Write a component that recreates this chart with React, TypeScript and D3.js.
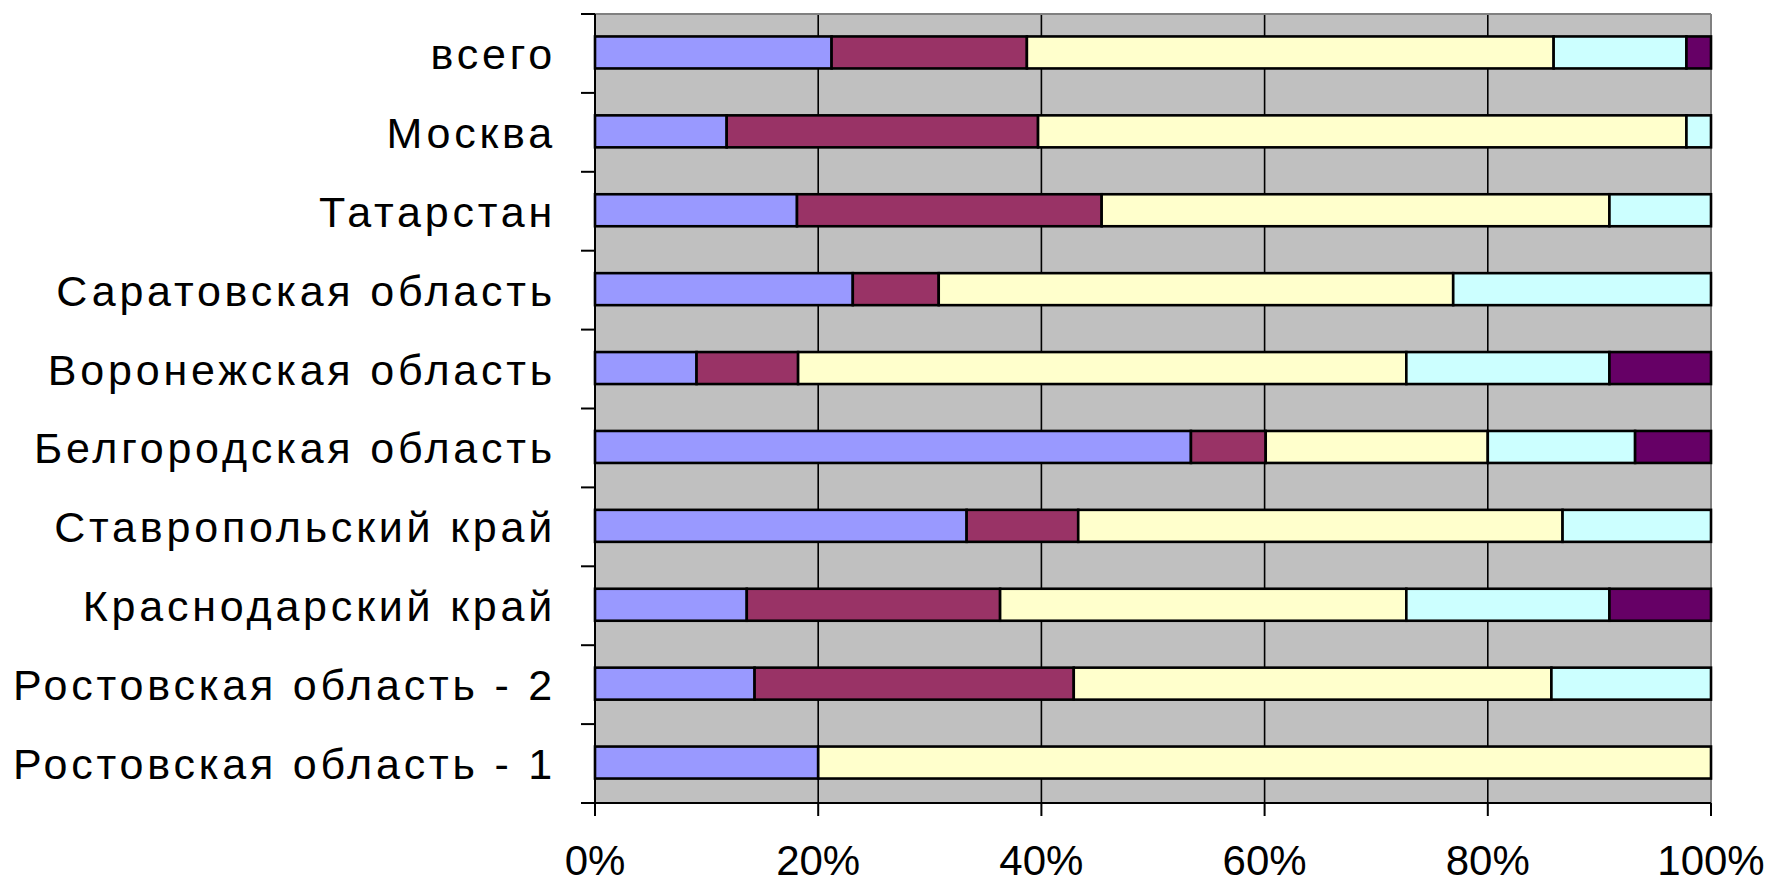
import React from "react";
import * as d3 from "d3";

const categories = [
  "всего",
  "Москва",
  "Татарстан",
  "Саратовская область",
  "Воронежская область",
  "Белгородская область",
  "Ставропольский край",
  "Краснодарский край",
  "Ростовская область - 2",
  "Ростовская область - 1",
];

const seriesKeys = ["s1", "s2", "s3", "s4", "s5"];
const seriesColors = ["#9999FF", "#993366", "#FFFFCC", "#CCFFFF", "#660066"];

const s1 = [21.2, 11.8, 18.1, 23.1, 9.1, 53.4, 33.3, 13.6, 14.3, 20.0];
const s2 = [17.5, 27.9, 27.3, 7.7, 9.1, 6.7, 10.0, 22.7, 28.6, 0];
const s3 = [47.2, 58.1, 45.5, 46.1, 54.5, 19.9, 43.4, 36.4, 42.8, 80.0];
const s4 = [11.9, 2.2, 9.1, 23.1, 18.2, 13.2, 13.3, 18.2, 14.3, 0];
const s5 = [2.2, 0, 0, 0, 9.1, 6.8, 0, 9.1, 0, 0];

const xTicks = [0, 0.2, 0.4, 0.6, 0.8, 1.0];

export default function App() {
  const W = 1767;
  const H = 886;
  const left = 595;
  const right = 1711;
  const top = 14;
  const bottom = 803;

  const rows = categories.map((c, i) => {
    const vals = [s1[i], s2[i], s3[i], s4[i], s5[i]];
    const total = d3.sum(vals);
    const r: any = { cat: c };
    seriesKeys.forEach((k, j) => (r[k] = vals[j] / total));
    return r;
  });

  const stacked = d3.stack().keys(seriesKeys)(rows as any);

  const x = d3.scaleLinear().domain([0, 1]).range([left, right]);
  const yb = d3.scaleBand().domain(categories).range([top, bottom]);
  const bw = yb.bandwidth();
  const barH = 32;

  const boundaries = d3.range(categories.length + 1).map((i) => top + i * bw);

  return (
    <svg
      width={W}
      height={H}
      style={{ position: "absolute", left: 0, top: 0, background: "#fff" }}
    >
      <rect x={left} y={top} width={right - left} height={bottom - top} fill="#C0C0C0" />
      {xTicks.slice(1, -1).map((t) => (
        <line key={t} x1={x(t)} x2={x(t)} y1={top} y2={bottom} stroke="#000" strokeWidth={1.6} />
      ))}
      <line x1={left} x2={right} y1={top} y2={top} stroke="#808080" strokeWidth={2} />
      <line x1={right} x2={right} y1={top} y2={bottom} stroke="#808080" strokeWidth={2} />
      {stacked.map((layer, j) => (
        <g key={layer.key} fill={seriesColors[j]}>
          {layer.map((d: any, i: number) => {
            const w = x(d[1]) - x(d[0]);
            if (w <= 0.01) return null;
            const cy = (yb(categories[i]) as number) + bw / 2 - 1;
            return (
              <rect
                key={i}
                x={x(d[0])}
                y={cy - barH / 2}
                width={w}
                height={barH}
                stroke="#000"
                strokeWidth={2.6}
              />
            );
          })}
        </g>
      ))}
      <line x1={left} x2={left} y1={top} y2={bottom} stroke="#000" strokeWidth={2} />
      <line x1={left} x2={right} y1={bottom} y2={bottom} stroke="#000" strokeWidth={2} />
      {boundaries.map((b, i) => (
        <line key={i} x1={left - 14} x2={left} y1={b} y2={b} stroke="#000" strokeWidth={2} />
      ))}
      {xTicks.map((t) => (
        <line key={t} x1={x(t)} x2={x(t)} y1={bottom} y2={bottom + 13} stroke="#000" strokeWidth={2} />
      ))}
      {categories.map((c) => (
        <text
          key={c}
          x={556}
          y={(yb(c) as number) + bw / 2 + 15.5}
          textAnchor="end"
          fontFamily="'Liberation Sans', Arial, sans-serif"
          fontSize={43}
          letterSpacing={3.8}
          fill="#000"
        >
          {c}
        </text>
      ))}
      {xTicks.map((t) => (
        <text
          key={t}
          x={x(t)}
          y={875}
          textAnchor="middle"
          fontFamily="'Liberation Sans', Arial, sans-serif"
          fontSize={42}
          fill="#000"
        >
          {d3.format(".0%")(t)}
        </text>
      ))}
    </svg>
  );
}
